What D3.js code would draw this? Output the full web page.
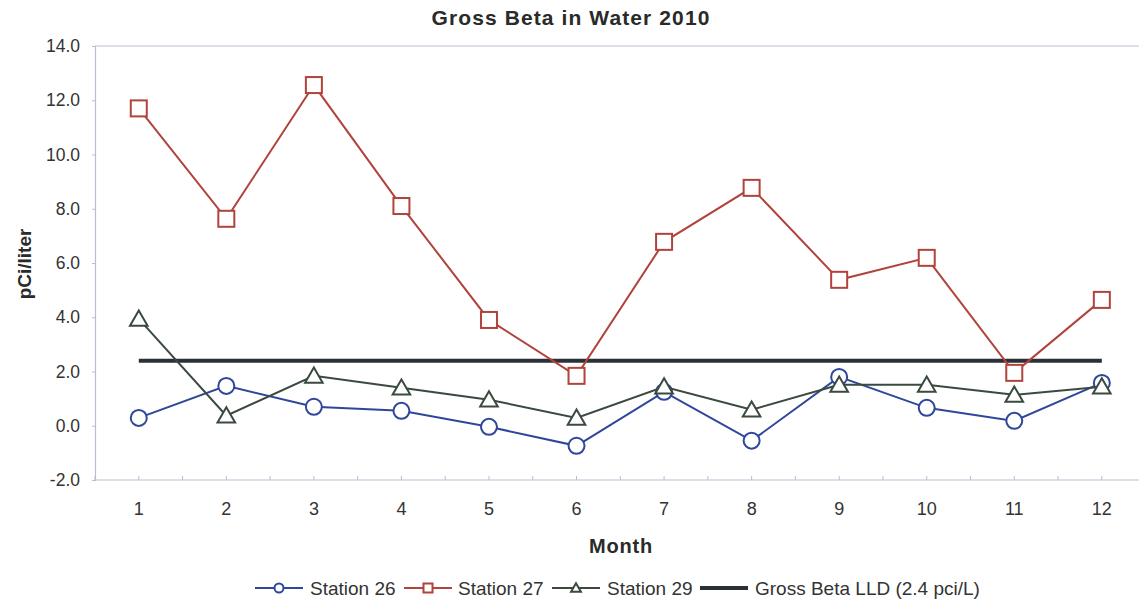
<!DOCTYPE html>
<html>
<head>
<meta charset="utf-8">
<script src="https://cdn.jsdelivr.net/npm/d3@7"></script>
<style>
  html, body { margin: 0; padding: 0; background: #fff; }
  svg { display: block; font-family: "Liberation Sans", Arial, sans-serif; }
</style>
</head>
<body>
<svg id="chart" width="1139" height="601"></svg>
<script>
// Monthly gross beta activity in water, 2010 (pCi/liter)
const months = [1, 2, 3, 4, 5, 6, 7, 8, 9, 10, 11, 12];
const station26 = [0.29, 1.47, 0.70, 0.55, -0.04, -0.74, 1.25, -0.55, 1.80, 0.66, 0.18, 1.58];
const station27 = [11.70, 7.63, 12.56, 8.10, 3.90, 1.84, 6.78, 8.77, 5.38, 6.19, 1.95, 4.64];
const station29 = [3.94, 0.37, 1.84, 1.40, 0.96, 0.29, 1.44, 0.59, 1.51, 1.51, 1.14, 1.44];
const lldValue = 2.4;
const yTicks = [-2, 0, 2, 4, 6, 8, 10, 12, 14];

const seriesNames = ["Station 26", "Station 27", "Station 29", "Gross Beta LLD (2.4 pci/L)"];

const svg = d3.select("#chart");
const plot = { left: 95, top: 46, bottom: 480, step: 87.55 };
plot.right = plot.left + plot.step * months.length;

const x = d3.scaleBand().domain(months).range([plot.left, plot.right]).paddingInner(0).paddingOuter(0);
const cx = m => x(m) + x.bandwidth() / 2;
const y = d3.scaleLinear().domain([-2, 14]).range([plot.bottom, plot.top]);

const axisColor = "#b9bdd2";
const textColor = "#333";
const fmt = v => v.toFixed(1);   // plain hyphen for negatives

// Title
svg.append("text").attr("x", 571).attr("y", 25).attr("text-anchor", "middle")
  .attr("font-size", 21).attr("font-weight", "bold").attr("fill", "#2a2a2a")
  .attr("letter-spacing", 1.1)
  .text("Gross Beta in Water 2010");

// Top border of the plot area
svg.append("line").attr("x1", plot.left).attr("x2", 1139)
  .attr("y1", y(14)).attr("y2", y(14)).attr("stroke", axisColor).attr("stroke-width", 1.2);

// Y axis
const yAxis = svg.append("g").attr("transform", `translate(${plot.left},0)`)
  .call(d3.axisLeft(y).tickValues(yTicks).tickFormat(fmt).tickSize(3).tickPadding(12));
yAxis.select(".domain").attr("stroke", axisColor).attr("stroke-width", 1.2);
yAxis.selectAll(".tick line").attr("stroke", axisColor);
yAxis.selectAll(".tick text").attr("font-size", 17.5).attr("fill", textColor)
  .attr("font-family", "Liberation Sans, Arial, sans-serif");

// X axis
const xAxis = svg.append("g").attr("transform", `translate(0,${plot.bottom})`)
  .call(d3.axisBottom(x).tickSize(0).tickPadding(22));
xAxis.select(".domain").remove();
xAxis.selectAll(".tick text").attr("font-size", 18).attr("fill", textColor)
  .attr("font-family", "Liberation Sans, Arial, sans-serif");
svg.append("line").attr("x1", plot.left).attr("x2", 1139)
  .attr("y1", plot.bottom).attr("y2", plot.bottom).attr("stroke", axisColor).attr("stroke-width", 1.2);
// small tick marks at category centres and boundaries
const tickPos = [];
months.forEach(m => { tickPos.push(x(m)); tickPos.push(cx(m)); });
svg.append("g").selectAll("line").data(tickPos).join("line")
  .attr("x1", d => d).attr("x2", d => d)
  .attr("y1", plot.bottom - 4).attr("y2", plot.bottom)
  .attr("stroke", axisColor);

// Axis titles
svg.append("text").attr("transform", `translate(31,${(plot.top + plot.bottom) / 2 + 1}) rotate(-90)`)
  .attr("text-anchor", "middle").attr("font-size", 19).attr("font-weight", "bold").attr("fill", "#2a2a2a")
  .text("pCi/liter");
svg.append("text").attr("x", 621).attr("y", 553).attr("text-anchor", "middle")
  .attr("font-size", 20).attr("font-weight", "bold").attr("fill", "#2a2a2a")
  .attr("letter-spacing", 0.8)
  .text("Month");

// LLD reference line
const lldColor = "#2b2f38";
svg.append("line").attr("x1", cx(1)).attr("x2", cx(12))
  .attr("y1", y(lldValue)).attr("y2", y(lldValue))
  .attr("stroke", lldColor).attr("stroke-width", 4);

const line = d3.line().x((d, i) => cx(months[i])).y(d => y(d));

const series = [
  { name: seriesNames[0], values: station26, color: "#2f479b", shape: "circle" },
  { name: seriesNames[2], values: station29, color: "#3a4a3e", shape: "triangle" },
  { name: seriesNames[1], values: station27, color: "#b0433b", shape: "square" }
];

function marker(g, shape, color, px, py, s) {
  if (shape === "circle") {
    g.append("circle").attr("cx", px).attr("cy", py).attr("r", s)
      .attr("fill", "#fff").attr("stroke", color).attr("stroke-width", 2);
  } else if (shape === "square") {
    g.append("rect").attr("x", px - s).attr("y", py - s).attr("width", 2 * s).attr("height", 2 * s)
      .attr("fill", "#fff").attr("stroke", color).attr("stroke-width", 2);
  } else {
    const h = s * 1.9;
    g.append("path")
      .attr("d", `M${px},${py - h * 0.55} L${px + s * 1.1},${py + h * 0.45} L${px - s * 1.1},${py + h * 0.45} Z`)
      .attr("fill", "#fff").attr("stroke", color).attr("stroke-width", 2);
  }
}

series.forEach(s => {
  const g = svg.append("g");
  g.append("path").datum(s.values).attr("d", line)
    .attr("fill", "none").attr("stroke", s.color).attr("stroke-width", 2);
  s.values.forEach((v, i) => marker(g, s.shape, s.color, cx(months[i]), y(v), 8));
});

// Legend
const legendY = 588;
const legendItems = [
  { x: 255, text: seriesNames[0], color: "#2f479b", shape: "circle", tx: 310 },
  { x: 404, text: seriesNames[1], color: "#b0433b", shape: "square", tx: 458 },
  { x: 552, text: seriesNames[2], color: "#3a4a3e", shape: "triangle", tx: 607 },
  { x: 700, text: seriesNames[3], color: lldColor, shape: null, tx: 755 }
];
const lg = svg.append("g");
legendItems.forEach(it => {
  lg.append("line").attr("x1", it.x).attr("x2", it.x + 48)
    .attr("y1", legendY).attr("y2", legendY)
    .attr("stroke", it.color).attr("stroke-width", it.shape ? 2 : 4);
  if (it.shape) marker(lg, it.shape, it.color, it.x + 24, legendY, 4.5);
  lg.append("text").attr("x", it.tx).attr("y", legendY + 7)
    .attr("font-size", 19).attr("fill", textColor).text(it.text);
});
</script>
</body>
</html>
